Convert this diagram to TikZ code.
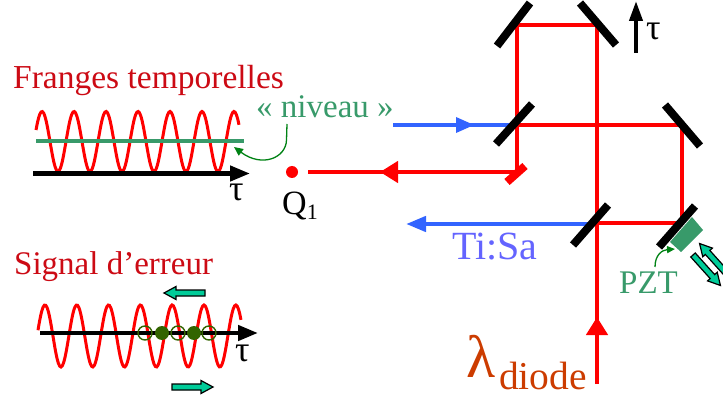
\documentclass[tikz,border=0pt]{standalone}
\usepackage{fontspec}
\setmainfont{Liberation Serif}
\usetikzlibrary{arrows.meta}
\definecolor{redbeam}{RGB}{255,0,0}
\definecolor{titlered}{RGB}{204,10,20}
\definecolor{bluebeam}{RGB}{50,100,255}
\definecolor{tisa}{RGB}{100,100,255}
\definecolor{pztgreen}{RGB}{56,154,106}
\definecolor{curvegreen}{RGB}{0,130,20}
\definecolor{dotgreen}{RGB}{50,100,0}
\definecolor{arrowteal}{RGB}{0,204,153}
\definecolor{diode}{RGB}{204,60,0}
\tikzset{
  beam/.style={draw=redbeam,line width=4.4pt},
  bluebm/.style={draw=bluebeam,line width=4.4pt},
  mirror/.style={draw=black,line width=8pt},
  smallmirror/.style={draw=redbeam,line width=8pt},
  axisline/.style={draw=black,line width=4.4pt,-{Triangle[length=20pt,width=15pt]}},
  wave/.style={draw=redbeam,line width=3pt},
  lab/.style={inner sep=0pt,anchor=base west},
  openmark/.style={draw=dotgreen,line width=1.4pt,circle,minimum size=14pt,inner sep=0pt},
  fullmark/.style={fill=dotgreen,circle,minimum size=14pt,inner sep=0pt},
  tealarrow/.pic={\draw[fill=arrowteal,draw=black,line width=1.2pt]
     (0,-3)--(29,-3)--(29,-6.5)--(41,0)--(29,6.5)--(29,3)--(0,3)--cycle;},
}
\begin{document}
\begin{tikzpicture}[x=1pt,y=-1pt]
\useasboundingbox (0,0) rectangle (723,398);
% interferometer points
\coordinate (tl) at (517,25);
\coordinate (tr) at (597,25);
\coordinate (bs) at (517,125);
\coordinate (mr) at (682,125);
\coordinate (br) at (682,223);
\coordinate (bc) at (597,223);
\coordinate (src) at (597,384);
\coordinate (srctip) at (597,317);
\coordinate (sm) at (517,172);
\coordinate (qend) at (308,172);
\coordinate (qtip) at (380,172);
\coordinate (qbase) at (400,172);
\coordinate (bluein) at (393,125);
\coordinate (bluetip) at (474,125);
\coordinate (blueout) at (592,224);
\coordinate (blueouttip) at (406,224);
% blue beams
\draw[bluebm] (bluein) -- (bs);
\draw[draw=none,fill=bluebeam] (bluetip) -- (456,117) -- (456,133) -- cycle;
\draw[bluebm,-{Triangle[length=20pt,width=15pt]}] (blueout) -- (blueouttip);
% red beams
\draw[beam] (tl) -- (tr) -- (src);
\draw[beam,line join=miter] (sm) -- (tl);
\draw[beam] (bs) -- (mr) -- (br) -- (bc);
\draw[beam] (sm) -- (qend);
\draw[beam,-{Triangle[length=18pt,width=21pt]}] (qbase) -- (qtip);
\draw[beam,-{Triangle[length=18pt,width=21pt]}] (src) -- (srctip);
% mirrors
\draw[mirror] (497,46) -- (530,3);
\draw[mirror] (580,3) -- (616,45);
\draw[mirror] (496,144) -- (532,104);
\draw[mirror] (665,105) -- (700,146);
\draw[mirror] (573,245) -- (608,205);
\draw[mirror] (659,247) -- (695,206);
\draw[smallmirror] (507,182) -- (525,166);
% PZT
\fill[pztgreen] (670,242) -- (692,217) -- (703,230) -- (681,252) -- cycle;
\node[lab,text=pztgreen,font=\fontsize{33}{33}\selectfont] (pzt) at (619,293) {PZT};
\coordinate (pztfrom) at (655,267);
\coordinate (pzttip) at (675,249);
\draw[curvegreen,line width=1.3pt,-{Triangle[length=8pt,width=7pt]}] (pztfrom) .. controls (655,255) and (662,250) .. (pzttip);
\pic[rotate=-48] at (693,255) {tealarrow};
\pic[rotate=132] at (727,274) {tealarrow};
% tau arrow
\coordinate (taua) at (636,53);
\coordinate (taub) at (636,1);
\draw[draw=black,line width=4pt,-{Triangle[length=20pt,width=13pt]}] (taua) -- (taub);
\node[lab,font=\fontsize{36}{36}\selectfont] (taut) at (646,40) {τ};
% Q1
\node[circle,fill=redbeam,minimum size=12pt,inner sep=0pt] (q) at (292,172) {};
\node[lab,font=\fontsize{34}{34}\selectfont] (qlab) at (282,215) {Q\raisebox{-5pt}{\fontsize{22}{22}\selectfont 1}};
% fringes
\node[lab,text=titlered,font=\fontsize{33.5}{34}\selectfont] (t1) at (13,89) {Franges temporelles};
\draw[wave,smooth] plot[domain=36:239,samples=160] (\x,{141.5-30*cos(11.25*(\x-42))});
\draw[draw=pztgreen,line width=4.5pt] (36,141) coordinate (lev1) -- (244,141) coordinate (lev2);
\coordinate (ax1a) at (33,173.5);
\coordinate (ax1b) at (250,173.5);
\draw[axisline] (ax1a) -- (ax1b);
\node[lab,font=\fontsize{36}{36}\selectfont] (tau1) at (229,201) {τ};
\node[lab,text=pztgreen,font=\fontsize{33}{33}\selectfont] (niv) at (256,118) {« niveau »};
\coordinate (nivfrom) at (287,124);
\coordinate (nivtip) at (234,147);
\draw[curvegreen,line width=1.3pt,-{Triangle[length=9pt,width=8pt]}] (nivfrom) -- (286.5,140) .. controls (286,158) and (262,168) .. (nivtip);
% error signal
\node[lab,text=titlered,font=\fontsize{33}{33}\selectfont] (t2) at (14,275) {Signal d’erreur};
\draw[wave,smooth] plot[domain=38:241,samples=160] (\x,{336-31*cos(11.32*(\x-45))});
\coordinate (ax2a) at (40,333);
\coordinate (ax2b) at (258,333);
\draw[axisline] (ax2a) -- (ax2b);
\node[openmark] at (145,333) {};
\node[openmark] at (178,333) {};
\node[openmark] at (209,333) {};
\node[fullmark] at (162,333) {};
\node[fullmark] at (194,333) {};
\node[lab,font=\fontsize{36}{36}\selectfont] (tau2) at (235,361) {τ};
\pic[rotate=180] at (205,293) {tealarrow};
\pic at (172,387) {tealarrow};
% labels
\node[lab,text=tisa,font=\fontsize{40}{40}\selectfont] (ts) at (452,260) {Ti:Sa};
\node[lab,text=diode,font=\fontsize{39.5}{40}\selectfont] (ld) at (499,389.5) {diode};
\node[lab,text=diode,font=\fontsize{60}{60}\selectfont] (lam) at (466,377) {λ};
\end{tikzpicture}
\end{document}
